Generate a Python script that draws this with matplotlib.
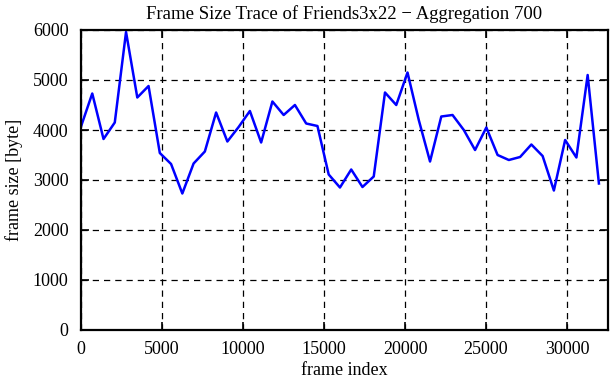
import matplotlib
matplotlib.use("Agg")
import matplotlib.pyplot as plt

# aggregated frame sizes (700 frames per point)
frame_index = [0, 695, 1390, 2085, 2780, 3475, 4170, 4865, 5560, 6255,
               6950, 7645, 8340, 9035, 9730, 10425, 11120, 11815, 12510, 13205,
               13900, 14595, 15290, 15985, 16680, 17375, 18070, 18765, 19460, 20155,
               20850, 21545, 22240, 22935, 23630, 24325, 25020, 25715, 26410, 27105,
               27800, 28495, 29190, 29885, 30580, 31275, 31970]
frame_size = [4070, 4730, 3820, 4150, 5960, 4650, 4880, 3540, 3320, 2730,
              3330, 3570, 4350, 3770, 4060, 4380, 3750, 4570, 4300, 4500,
              4130, 4080, 3110, 2850, 3210, 2860, 3070, 4750, 4500, 5150,
              4200, 3370, 4270, 4300, 4000, 3600, 4050, 3500, 3400, 3460,
              3710, 3480, 2790, 3800, 3450, 5100, 2930]

x_ticks = [0, 5000, 10000, 15000, 20000, 25000, 30000]
y_ticks = [0, 1000, 2000, 3000, 4000, 5000, 6000]

plt.rcParams["font.family"] = ["Liberation Serif", "DejaVu Serif"]

fig = plt.figure(figsize=(6.11, 3.80), dpi=100)
ax = fig.add_axes([81 / 611, 50 / 380, 526.5 / 611, 300 / 380])

ax.plot(frame_index, frame_size, color="#0000ff", linewidth=1.8)

ax.set_xlim(0, 32500)
ax.set_ylim(0, 6000)
ax.set_xticks(x_ticks)
ax.set_yticks(y_ticks)
ax.grid(True, color="black", linestyle=(0, (5, 4)), linewidth=0.9)

ax.tick_params(direction="in", top=True, right=True, length=6, width=1.2,
               labelsize=13)
ax.tick_params(axis="x", pad=8)
ax.tick_params(axis="y", pad=9)
for s in ax.spines.values():
    s.set_linewidth(1.6)

ax.set_title("Frame Size Trace of Friends3x22 \u2212 Aggregation 700", fontsize=13.5, pad=8)
ax.set_xlabel("frame index", fontsize=13, labelpad=3)
ax.set_ylabel("frame size [byte]", fontsize=13, labelpad=7)

fig.savefig("out.png", dpi=100)
